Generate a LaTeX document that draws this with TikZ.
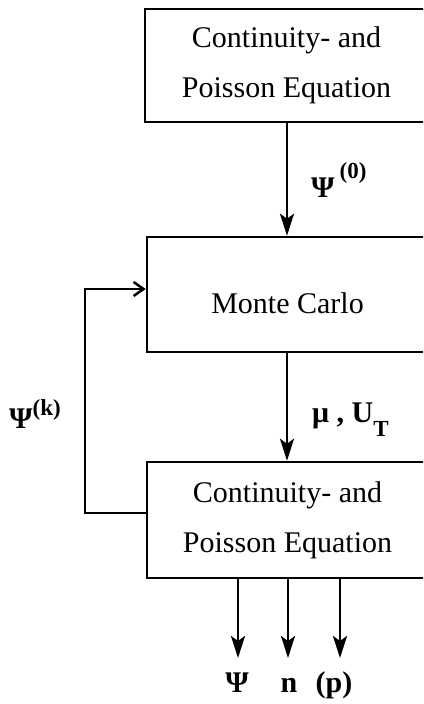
\documentclass[tikz,border=0pt]{standalone}
\usepackage{fontspec}
\setmainfont{Liberation Serif}
\usetikzlibrary{arrows.meta}
\newcommand{\supx}[2]{\raisebox{#1}{\fontsize{23}{24}\selectfont #2}}
\newcommand{\subx}[1]{\raisebox{-14pt}{\fontsize{23}{24}\selectfont #1}}
\tikzset{
  blk/.style={draw, line width=2.5pt, minimum height=113pt, align=center,
    font=\fontsize{30}{50}\selectfont, inner sep=0pt},
  conn/.style={line width=2.5pt, -{Stealth[length=22pt,width=14pt,inset=5pt]}},
  fb/.style={line width=2.5pt, -{Straight Barb[length=10pt,width=14pt,line width=2.5pt]}},
  lbl/.style={font=\fontsize{30}{34}\selectfont\bfseries, inner sep=0pt, anchor=base west}
}
\begin{document}
\begin{tikzpicture}[x=1pt,y=-1pt]
\useasboundingbox (0,0) rectangle (423,704);
\clip (0,0) rectangle (423,704);
\node[blk, minimum width=283pt] (b1) at (286.5,65.5) {Continuity- and\\Poisson Equation};
\node[blk, minimum width=281pt, minimum height=115pt,
  label={[font=\fontsize{30}{34}\selectfont, yshift=-9pt]center:Monte Carlo}] (b2) at (287.5,294.5) {};
\node[blk, minimum width=281pt, minimum height=116pt] (b3) at (287.5,520) {Continuity- and\\Poisson Equation};
\draw[conn] (b1.south -| 287,0) -- (b2.north -| 287,0);
\draw[conn] (b2.south -| 287,0) -- (b3.north -| 287,0);
\coordinate (fbA) at (85,513);
\coordinate (fbB) at (85,289);
\draw[fb] (b3.west |- fbA) -- (fbA) -- (fbB) -- (b2.west |- fbB);
\node[lbl] (l0) at (311,197) {Ψ\,\supx{19pt}{(0)}};
\node[lbl] (lk) at (9,428) {Ψ\supx{13pt}{(k)}};
\node[lbl] (lmu) at (312,422) {μ , U\subx{T}};
\coordinate (o1) at (238,578);
\coordinate (o2) at (288,578);
\coordinate (o3) at (340,578);
\node[lbl, anchor=base] (p1) at (237,692) {Ψ};
\node[lbl, anchor=base] (p2) at (289,692) {n};
\node[lbl, anchor=base] (p3) at (334,692) {(p)};
\draw[conn] (o1) -- (238,658);
\draw[conn] (o2) -- (288,658);
\draw[conn] (o3) -- (340,658);
\end{tikzpicture}
\end{document}
